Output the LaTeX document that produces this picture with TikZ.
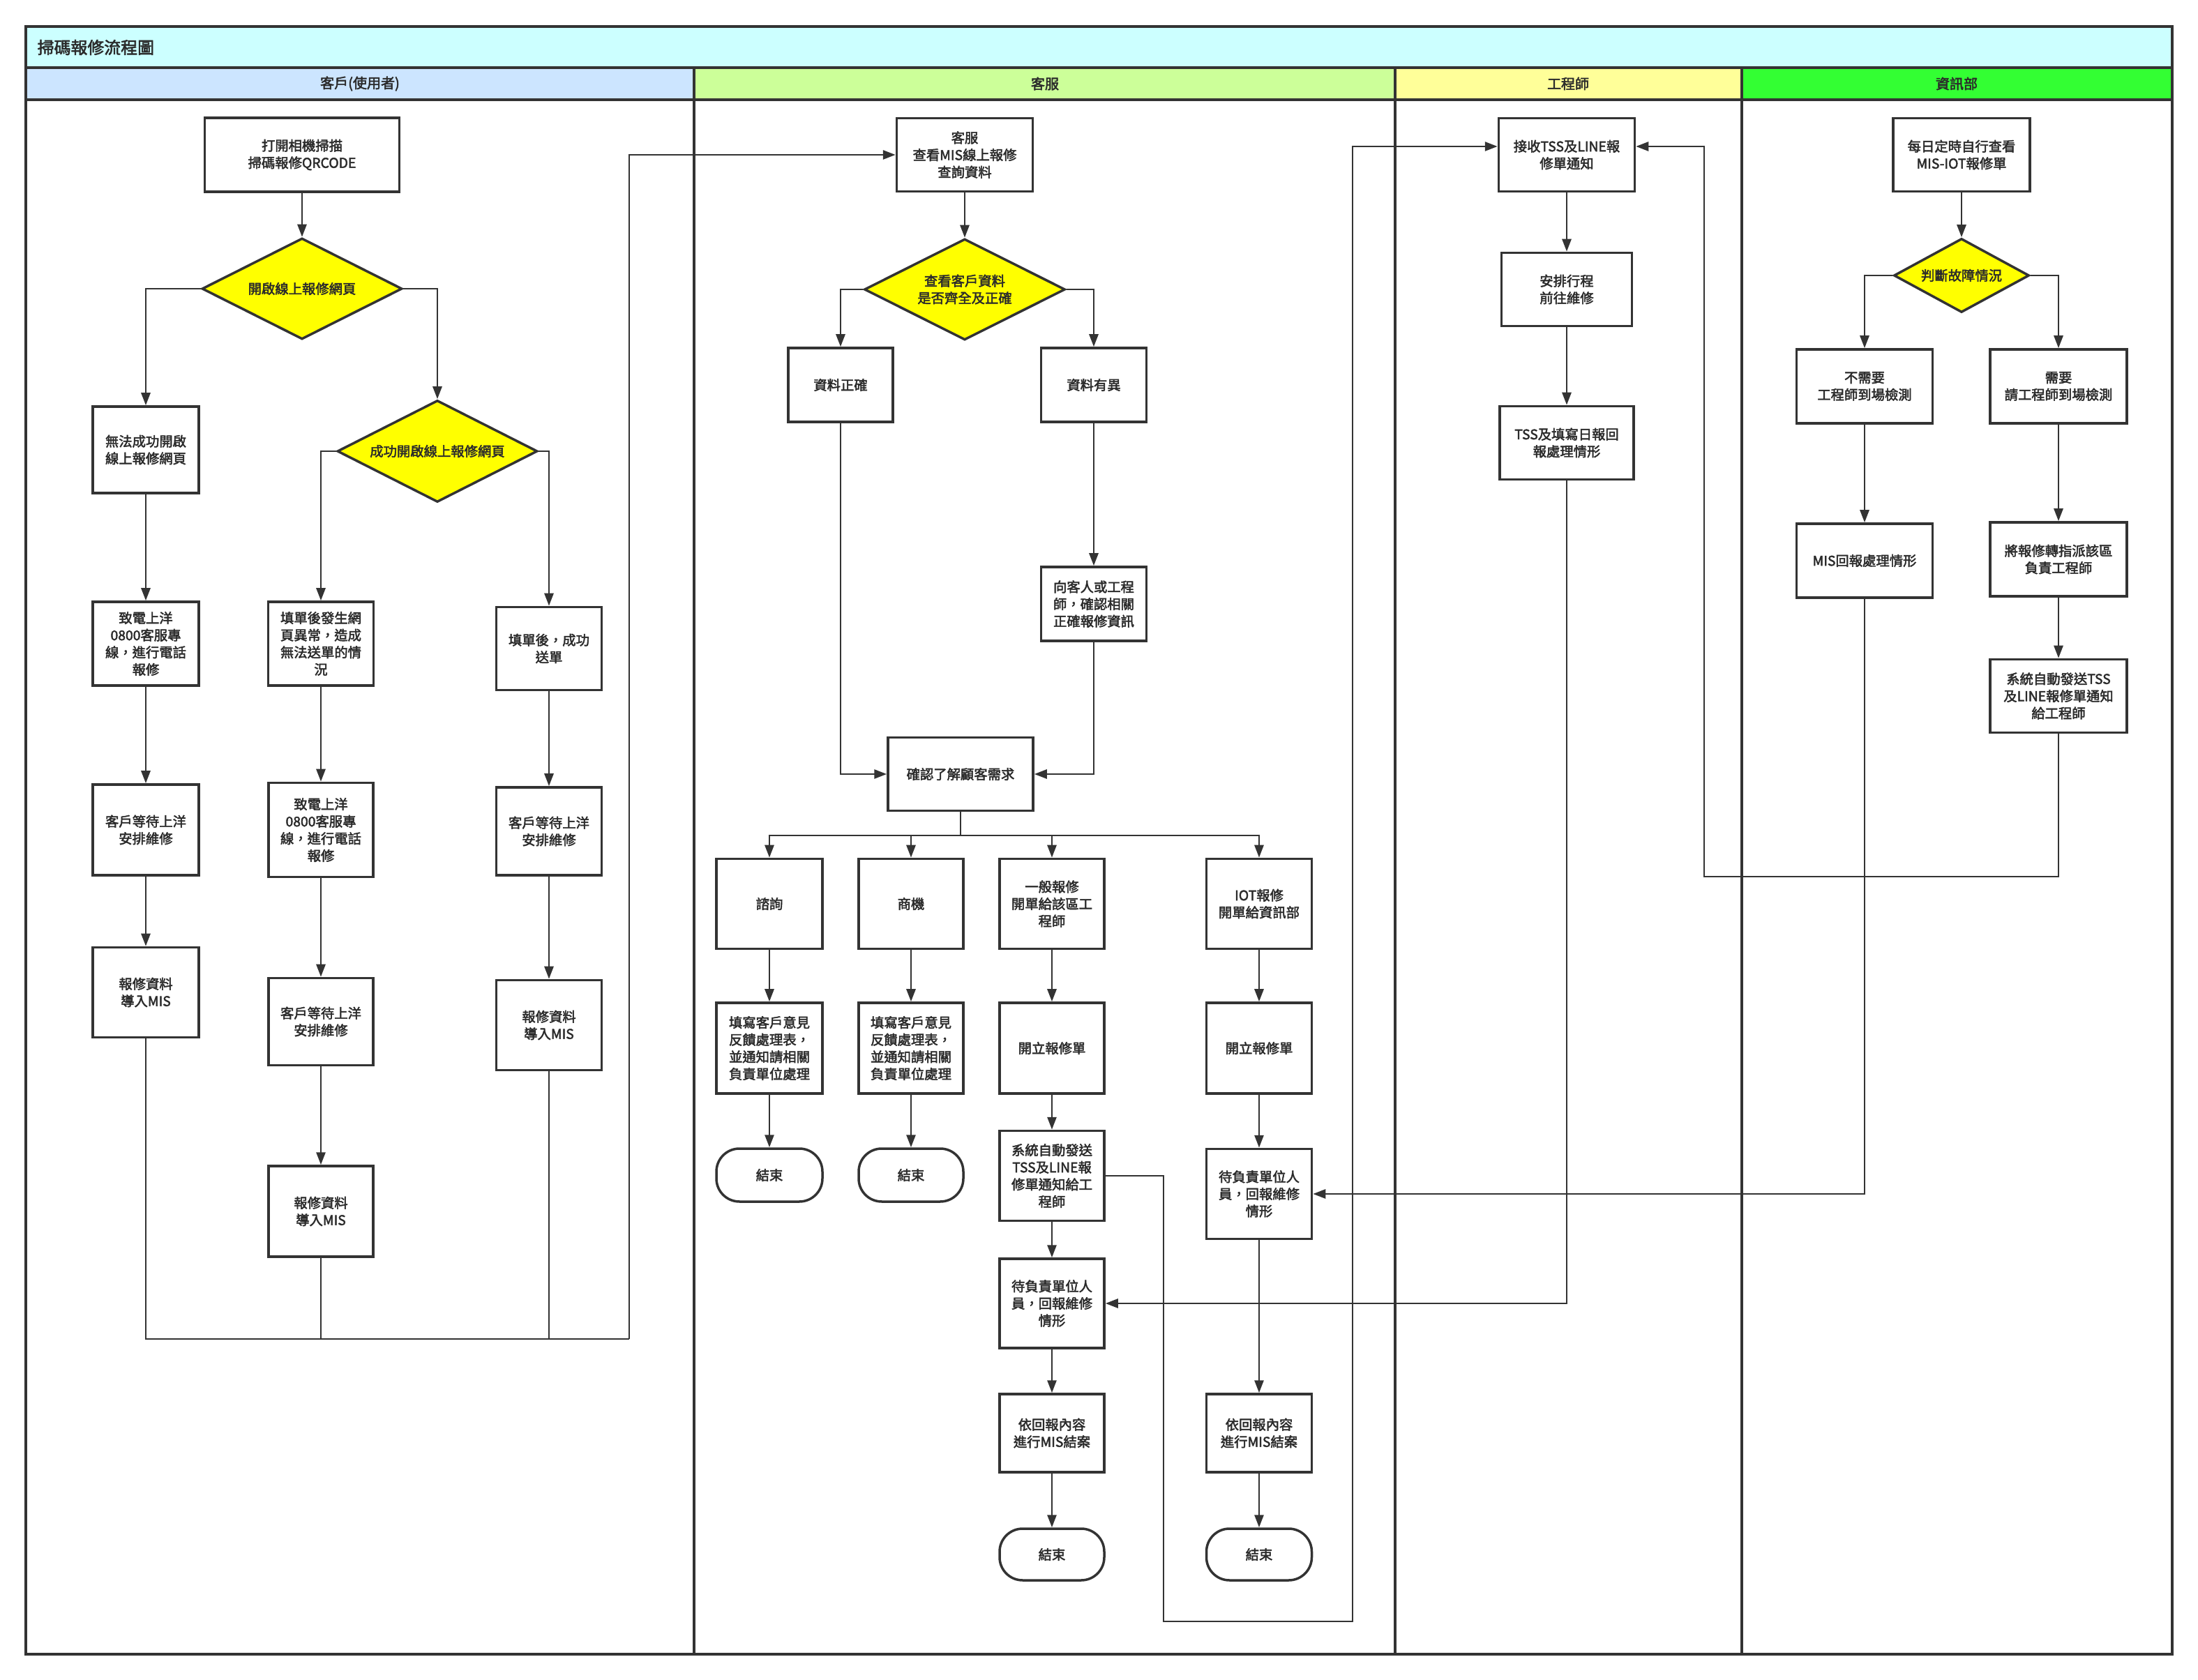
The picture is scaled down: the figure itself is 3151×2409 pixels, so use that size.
\documentclass[tikz,border=0pt]{standalone}
\usepackage{fontspec}
\setmainfont{Noto Sans CJK TC}[AutoFakeBold=2.5, BoldFeatures={FakeBold=1.2}]
\usetikzlibrary{arrows.meta,shapes.geometric}
\definecolor{lc}{HTML}{333333}
\definecolor{tc}{HTML}{2B2B2B}
\definecolor{titlec}{HTML}{CCFFFF}
\definecolor{laneA}{HTML}{CCE5FF}
\definecolor{laneB}{HTML}{CCFF99}
\definecolor{laneC}{HTML}{FFFF99}
\definecolor{laneD}{HTML}{33FF33}
\definecolor{dia}{HTML}{FFFF00}
\begin{document}
\begin{tikzpicture}[x=0.1mm,y=-0.1mm,
  txt/.style={font=\bfseries\fontsize{5.5}{7}\selectfont, text=tc},
  box/.style={txt, draw=lc, line width=0.35mm, fill=white, align=center, inner sep=0pt},
  sz/.style 2 args={minimum width=#1mm, minimum height=#2mm},
  dec/.style={box, diamond, aspect=2, fill=dia},
  term/.style={box, rounded corners=3.3mm},
  ln/.style={draw=lc, line width=0.28mm},
  arr/.style={ln, -{Triangle[length=1.8mm,width=1.3mm]}},
  lane/.style={draw=lc, line width=0.4mm},
  hdr/.style={font=\bfseries\fontsize{5.7}{7}\selectfont, text=tc}
]
\useasboundingbox (0,0) rectangle (3151,2409);
% ---------- frame and lanes ----------
\fill[titlec] (37,38) rectangle (3114,97);
\fill[laneA] (37,97) rectangle (995,143);
\fill[laneB] (995,97) rectangle (2000,143);
\fill[laneC] (2000,97) rectangle (2497,143);
\fill[laneD] (2497,97) rectangle (3114,143);
\draw[lane] (37,38) rectangle (3114,2372);
\draw[lane] (37,97) -- (3114,97);
\draw[lane] (37,143) -- (3114,143);
\draw[lane] (995,97) -- (995,2372);
\draw[lane] (2000,97) -- (2000,2372);
\draw[lane] (2497,97) -- (2497,2372);
\node[font=\bfseries\fontsize{6.8}{8}\selectfont, text=tc, anchor=west, inner sep=0pt] (title) at (53,68) {掃碼報修流程圖};
\node[hdr] (h1) at (516,120) {客戶(使用者)};
\node[hdr] (h2) at (1498,120) {客服};
\node[hdr] (h3) at (2248,120) {工程師};
\node[hdr] (h4) at (2805,120) {資訊部};

% ---------- lane 1 ----------
\node[box, sz={27.9}{10.6}] (qr) at (433,222) {打開相機掃描\\掃碼報修QRCODE};
\node[dec, sz={28.7}{14.5}] (d1) at (433,414) {開啟線上報修網頁};
\node[box, sz={15.2}{12.4}] (nope) at (209,645) {無法成功開啟\\線上報修網頁};
\node[dec, sz={28.7}{14.6}] (d2) at (627,647) {成功開啟線上報修網頁};
\node[box, sz={15.2}{12.0}] (c1a) at (209,923) {致電上洋\\0800客服專\\線，進行電話\\報修};
\node[box, sz={15.1}{12.0}] (c2a) at (460,923) {填單後發生網\\頁異常，造成\\無法送單的情\\況};
\node[box, sz={15.1}{11.9}] (c3a) at (787,930) {填單後，成功\\送單};
\node[box, sz={15.2}{13.0}] (c1b) at (209,1190) {客戶等待上洋\\安排維修};
\node[box, sz={15.0}{13.5}] (c2b) at (460,1190) {致電上洋\\0800客服專\\線，進行電話\\報修};
\node[box, sz={15.1}{12.6}] (c3b) at (787,1192) {客戶等待上洋\\安排維修};
\node[box, sz={15.2}{12.9}] (c1c) at (209,1423) {報修資料\\導入MIS};
\node[box, sz={15.0}{12.5}] (c2c) at (460,1465) {客戶等待上洋\\安排維修};
\node[box, sz={15.1}{12.9}] (c3c) at (787,1470) {報修資料\\導入MIS};
\node[box, sz={15.0}{13.0}] (c2d) at (460,1737) {報修資料\\導入MIS};

% ---------- lane 2 ----------
\node[box, sz={19.5}{10.5}] (kf) at (1383,222) {客服\\查看MIS線上報修\\查詢資料};
\node[dec, sz={28.8}{14.5}] (d3) at (1383,415) {查看客戶資料\\是否齊全及正確};
\node[box, sz={15.0}{10.6}] (ok) at (1205,552) {資料正確};
\node[box, sz={15.1}{10.6}] (diff) at (1568,552) {資料有異};
\node[box, sz={15.1}{10.6}] (ask) at (1568,866) {向客人或工程\\師，確認相關\\正確報修資訊};
\node[box, sz={20.8}{10.5}] (cf) at (1377,1110) {確認了解顧客需求};
\node[box, sz={15.2}{12.9}] (q1) at (1103,1296) {諮詢};
\node[box, sz={15.0}{12.9}] (q2) at (1306,1296) {商機};
\node[box, sz={15.0}{12.9}] (q3) at (1508,1296) {一般報修\\開單給該區工\\程師};
\node[box, sz={15.1}{12.9}] (q4) at (1805,1296) {IOT報修\\開單給資訊部};
\node[box, sz={15.2}{13.0}] (f1) at (1103,1503) {填寫客戶意見\\反饋處理表，\\並通知請相關\\負責單位處理};
\node[box, sz={15.0}{13.0}] (f2) at (1306,1503) {填寫客戶意見\\反饋處理表，\\並通知請相關\\負責單位處理};
\node[box, sz={15.0}{13.0}] (o1) at (1508,1503) {開立報修單};
\node[box, sz={15.1}{13.0}] (o2) at (1805,1503) {開立報修單};
\node[term, sz={15.2}{7.6}] (e1) at (1103,1685) {結束};
\node[term, sz={15.0}{7.6}] (e2) at (1306,1685) {結束};
\node[box, sz={15.0}{12.9}] (sys1) at (1508,1686) {系統自動發送\\TSS及LINE報\\修單通知給工\\程師};
\node[box, sz={15.1}{12.9}] (w2) at (1805,1712) {待負責單位人\\員，回報維修\\情形};
\node[box, sz={15.0}{12.8}] (w1) at (1508,1869) {待負責單位人\\員，回報維修\\情形};
\node[box, sz={15.0}{11.2}] (r1) at (1508,2055) {依回報內容\\進行MIS結案};
\node[box, sz={15.1}{11.2}] (r2) at (1805,2055) {依回報內容\\進行MIS結案};
\node[term, sz={15.0}{7.4}] (e3) at (1508,2229) {結束};
\node[term, sz={15.1}{7.4}] (e4) at (1805,2229) {結束};

% ---------- lane 3 ----------
\node[box, sz={19.5}{10.5}] (recv) at (2246,222) {接收TSS及LINE報\\修單通知};
\node[box, sz={18.7}{10.5}] (plan) at (2246,415) {安排行程\\前往維修};
\node[box, sz={19.2}{10.5}] (tss) at (2246,635) {TSS及填寫日報回\\報處理情形};

% ---------- lane 4 ----------
\node[box, sz={19.6}{10.5}] (daily) at (2812,222) {每日定時自行查看\\MIS-IOT報修單};
\node[dec, aspect=1.83, sz={19.4}{10.6}] (d4) at (2812,395) {判斷故障情況};
\node[box, sz={19.5}{10.6}] (no) at (2673,554) {不需要\\工程師到場檢測};
\node[box, sz={19.6}{10.6}] (yes) at (2951,554) {需要\\請工程師到場檢測};
\node[box, sz={19.5}{10.6}] (misr) at (2673,804) {MIS回報處理情形};
\node[box, sz={19.6}{10.6}] (assign) at (2951,802) {將報修轉指派該區\\負責工程師};
\node[box, sz={19.6}{10.5}] (sys2) at (2951,998) {系統自動發送TSS\\及LINE報修單通知\\給工程師};

% ---------- connectors lane 1 ----------
\draw[arr] (qr) -- (d1);
\draw[arr] (d1.west) -| (nope.north);
\draw[arr] (d1.east) -| (d2.north);
\draw[arr] (nope) -- (c1a);
\draw[arr] (c1a) -- (c1b);
\draw[arr] (c1b) -- (c1c);
\draw[arr] (d2.west) -| (c2a.north);
\draw[arr] (d2.east) -| (c3a.north);
\draw[arr] (c2a) -- (c2b);
\draw[arr] (c2b) -- (c2c);
\draw[arr] (c2c) -- (c2d);
\draw[arr] (c3a) -- (c3b);
\draw[arr] (c3b) -- (c3c);
\coordinate (j1) at (902,1920);
\draw[ln] (c1c.south) |- (j1);
\draw[ln] (c2d.south) |- (j1);
\draw[ln] (c3c.south) |- (j1);
\draw[arr] (j1) |- (kf.west);

% ---------- connectors lane 2 ----------
\draw[arr] (kf) -- (d3);
\draw[arr] (d3.west) -| (ok.north);
\draw[arr] (d3.east) -| (diff.north);
\draw[arr] (diff) -- (ask);
\draw[arr] (ok.south) |- (cf.west);
\draw[arr] (ask.south) |- (cf.east);
\coordinate (br) at (1377,1198);
\draw[ln] (cf.south) -- (br);
\draw[arr] (br) -| (q1.north);
\draw[arr] (br) -| (q2.north);
\draw[arr] (br) -| (q3.north);
\draw[arr] (br) -| (q4.north);
\draw[arr] (q1) -- (f1);
\draw[arr] (f1) -- (e1);
\draw[arr] (q2) -- (f2);
\draw[arr] (f2) -- (e2);
\draw[arr] (q3) -- (o1);
\draw[arr] (o1) -- (sys1);
\draw[arr] (sys1) -- (w1);
\draw[arr] (w1) -- (r1);
\draw[arr] (r1) -- (e3);
\draw[arr] (q4) -- (o2);
\draw[arr] (o2) -- (w2);
\draw[arr] (w2) -- (r2);
\draw[arr] (r2) -- (e4);
\coordinate (s1) at (1668,2325);
\coordinate (s2) at (1939,2325);
\draw[arr] (sys1.east) -| (s1) -- (s2) |- ([yshift=1.2mm]recv.west);

% ---------- connectors lane 3 ----------
\draw[arr] (recv) -- (plan);
\draw[arr] (plan) -- (tss);
\draw[arr] (tss.south) |- (w1.east);

% ---------- connectors lane 4 ----------
\draw[arr] (daily) -- (d4);
\draw[arr] (d4.west) -| (no.north);
\draw[arr] (d4.east) -| (yes.north);
\draw[arr] (no) -- (misr);
\draw[arr] (yes) -- (assign);
\draw[arr] (assign) -- (sys2);
\draw[arr] (misr.south) |- (w2.east);
\coordinate (t1) at (2443,1257);
\draw[arr] (sys2.south) |- (t1) |- ([yshift=1.2mm]recv.east);
\end{tikzpicture}
\end{document}
